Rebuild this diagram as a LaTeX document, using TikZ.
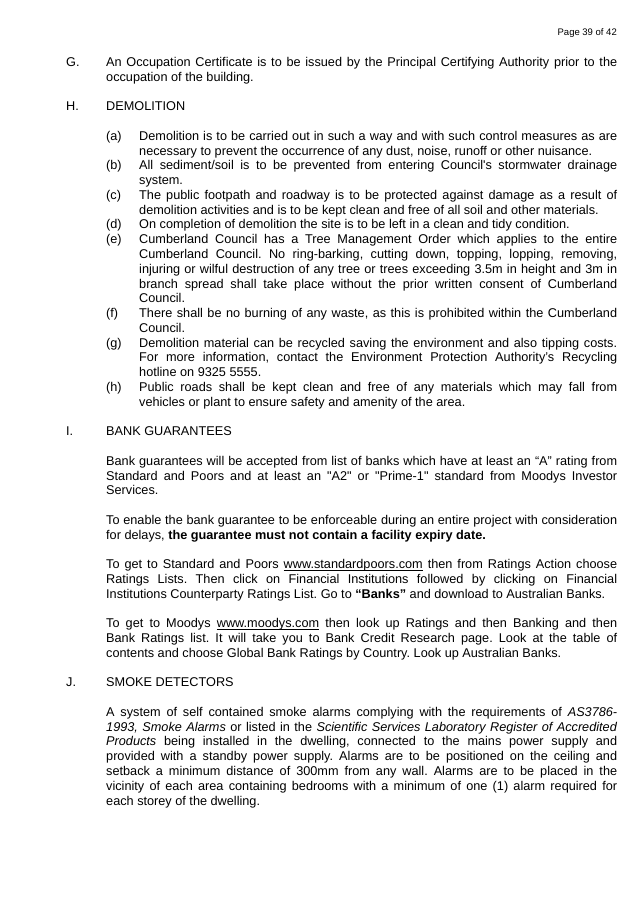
\documentclass[tikz,border=0pt]{standalone}
\usepackage{fontspec}
\newfontfamily\docfont{Liberation Sans}
\usepackage{tikz}
\newcommand{\weblink}[1]{\setbox0=\hbox{#1}\rlap{\rule[-1.5pt]{\wd0}{0.6pt}}\box0\relax}

\begin{document}
\begin{tikzpicture}[x=1pt, y=-14.77pt,
    font=\docfont\fontsize{12.7pt}{14.77pt}\selectfont\frenchspacing,
    lbl/.style={anchor=base west, inner sep=0pt},
    txt/.style={anchor=base west, inner sep=0pt, align=justify, text width=511pt,
      execute at begin node={\hyphenpenalty=10000\tolerance=10000\pretolerance=-1}},
    itm/.style={txt, text width=478pt}]
    \useasboundingbox (0pt,66.5pt) rectangle (637pt,-856.5pt);

    \node[anchor=base east, inner sep=0pt, font=\docfont\fontsize{9.5pt}{11pt}\selectfont]
      (pagenr) at (617,-2.07) {Page 39 of 42};

    % G
    \node[lbl] (gl) at (66,0) {G.};
    \node[txt] (gt) at (106,0) {An Occupation Certificate is to be issued by the Principal Certifying Authority prior to the\linebreak
      occupation of the building.};

    % H demolition
    \node[lbl] (hl) at (66,3) {H.};
    \node[lbl] (ht) at (106,3) {DEMOLITION};
    \node[lbl] (ha) at (106,5) {(a)};
    \node[itm] (hat) at (139,5) {Demolition is to be carried out in such a way and with such control measures as are\linebreak
      necessary to prevent the occurrence of any dust, noise, runoff or other nuisance.};
    \node[lbl] (hb) at (106,7) {(b)};
    \node[itm] (hbt) at (139,7) {All sediment/soil is to be prevented from entering Council's stormwater drainage\linebreak
      system.};
    \node[lbl] (hc) at (106,9) {(c)};
    \node[itm] (hct) at (139,9) {The public footpath and roadway is to be protected against damage as a result of\linebreak
      demolition activities and is to be kept clean and free of all soil and other materials.};
    \node[lbl] (hd) at (106,11) {(d)};
    \node[itm] (hdt) at (139,11) {On completion of demolition the site is to be left in a clean and tidy condition.};
    \node[lbl] (he) at (106,12) {(e)};
    \node[itm] (het) at (139,12) {Cumberland Council has a Tree Management Order which applies to the entire\linebreak
      Cumberland Council. No ring-barking, cutting down, topping, lopping, removing,\linebreak
      injuring or wilful destruction of any tree or trees exceeding 3.5m in height and 3m in\linebreak
      branch spread shall take place without the prior written consent of Cumberland\linebreak
      Council.};
    \node[lbl] (hf) at (106,17) {(f)};
    \node[itm] (hft) at (139,17) {There shall be no burning of any waste, as this is prohibited within the Cumberland\linebreak
      Council.};
    \node[lbl] (hg) at (106,19) {(g)};
    \node[itm] (hgt) at (139,19) {Demolition material can be recycled saving the environment and also tipping costs.\linebreak
      For more information, contact the Environment Protection Authority’s Recycling\linebreak
      hotline on 9325 5555.};
    \node[lbl] (hh) at (106,22) {(h)};
    \node[itm] (hht) at (139,22) {Public roads shall be kept clean and free of any materials which may fall from\linebreak
      vehicles or plant to ensure safety and amenity of the area.};

    % I bank guarantees
    \node[lbl] (il) at (66,25) {I.};
    \node[lbl] (it) at (106,25) {BANK GUARANTEES};
    \node[txt] (ip1) at (106,27) {Bank guarantees will be accepted from list of banks which have at least an “A” rating from\linebreak
      Standard and Poors and at least an "A2" or "Prime-1" standard from Moodys Investor\linebreak
      Services.};
    \node[txt] (ip2) at (106,31) {To enable the bank guarantee to be enforceable during an entire project with consideration\linebreak
      for delays, \textbf{the guarantee must not contain a facility expiry date.}};
    \node[txt] (ip3) at (106,34) {To get to Standard and Poors \weblink{www.standardpoors.com} then from Ratings Action choose\linebreak
      Ratings Lists. Then click on Financial Institutions followed by clicking on Financial\linebreak
      Institutions Counterparty Ratings List. Go to \textbf{“Banks”} and download to Australian Banks.};
    \node[txt] (ip4) at (106,38) {To get to Moodys \weblink{www.moodys.com} then look up Ratings and then Banking and then\linebreak
      Bank Ratings list. It will take you to Bank Credit Research page. Look at the table of\linebreak
      contents and choose Global Bank Ratings by Country. Look up Australian Banks.};

    % J smoke detectors
    \node[lbl] (jl) at (66,42) {J.};
    \node[lbl] (jt) at (106,42) {SMOKE DETECTORS};
    \node[txt] (jp1) at (106,44) {A system of self contained smoke alarms complying with the requirements of \textit{AS3786-}\linebreak
      \textit{1993, Smoke Alarms} or listed in the \textit{Scientific Services Laboratory Register of Accredited}\linebreak
      \textit{Products} being installed in the dwelling, connected to the mains power supply and\linebreak
      provided with a standby power supply. Alarms are to be positioned on the ceiling and\linebreak
      setback a minimum distance of 300mm from any wall. Alarms are to be placed in the\linebreak
      vicinity of each area containing bedrooms with a minimum of one (1) alarm required for\linebreak
      each storey of the dwelling.};
\end{tikzpicture}
\end{document}
